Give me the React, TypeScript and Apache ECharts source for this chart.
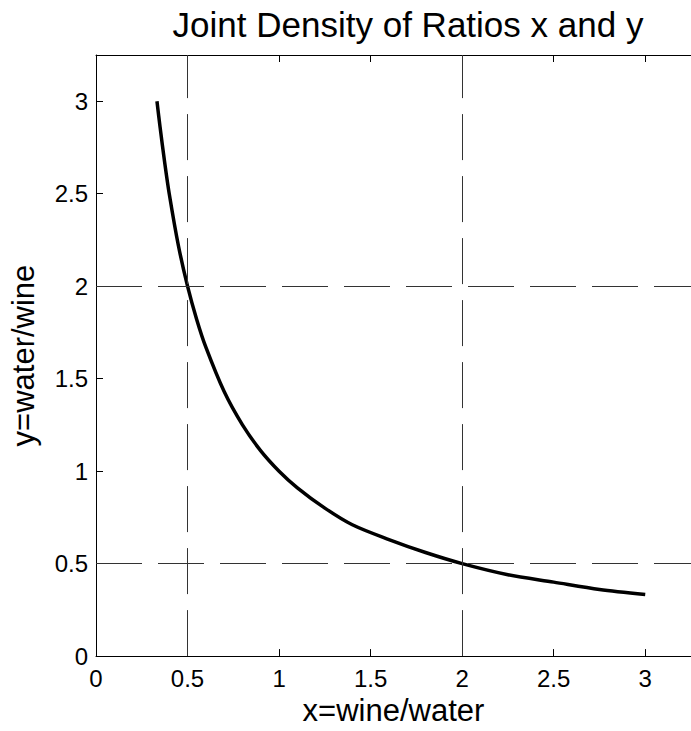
import React, { useEffect, useRef } from "react";
import * as echarts from "echarts";

const titleText = "Joint Density of Ratios x and y";
const xName = "x=wine/water";
const yName = "y=water/wine";

// curve points (x, y)
const curveX = [0.333, 0.35, 0.375, 0.4, 0.45, 0.5, 0.55, 0.6, 0.7, 0.8, 0.9, 1.0, 1.1, 1.25, 1.4, 1.6, 1.8, 2.0, 2.25, 2.5, 2.75, 3.0];
const curveY = [3.0, 2.86, 2.67, 2.5, 2.22, 2.0, 1.82, 1.67, 1.43, 1.25, 1.11, 1.0, 0.91, 0.8, 0.71, 0.63, 0.56, 0.5, 0.44, 0.4, 0.36, 0.333];

// dashed reference lines
const vLines = [0.5, 2];
const hLines = [0.5, 2];

const axisMin = 0;
const axisMax = 3.25;
const tickStep = 0.5;

export default function App() {
  const ref = useRef<HTMLDivElement>(null);
  useEffect(() => {
    if (!ref.current) return;
    const chart = echarts.init(ref.current, null, { renderer: "svg" });
    const font = "'Liberation Sans', Arial, Helvetica, sans-serif";
    const tickCommon = {
      axisLine: { show: true, lineStyle: { color: "#000", width: 1 } },
      axisTick: { show: true, inside: true, length: 7, lineStyle: { color: "#000", width: 1 } },
      splitLine: { show: false },
    };
    chart.setOption({
      animation: false,
      backgroundColor: "#fff",
      title: {
        text: titleText,
        left: 403,
        top: 2,
        textAlign: "center",
        textStyle: { fontFamily: font, fontSize: 35, fontWeight: "normal", color: "#000" },
      },
      grid: { left: 95, top: 55, right: -8, bottom: 70, containLabel: false },
      xAxis: [
        {
          type: "value",
          min: axisMin,
          max: axisMax,
          interval: tickStep,
          position: "bottom",
          name: xName,
          nameLocation: "middle",
          nameGap: 38,
          nameTextStyle: { fontFamily: font, fontSize: 31, color: "#000" },
          axisLabel: { fontFamily: font, fontSize: 24, color: "#000", margin: 10, showMaxLabel: false },
          ...tickCommon,
        },
        {
          type: "value",
          min: axisMin,
          max: axisMax,
          interval: tickStep,
          position: "top",
          axisLabel: { show: false },
          ...tickCommon,
        },
      ],
      yAxis: [
        {
          type: "value",
          min: axisMin,
          max: axisMax,
          interval: tickStep,
          position: "left",
          name: yName,
          nameLocation: "middle",
          nameGap: 57,
          nameTextStyle: { fontFamily: font, fontSize: 31, color: "#000" },
          axisLabel: { fontFamily: font, fontSize: 24, color: "#000", margin: 8, showMaxLabel: false },
          ...tickCommon,
        },
      ],
      series: [
        {
          type: "line",
          data: curveX.map((x, i) => [x, curveY[i]]),
          showSymbol: false,
          smooth: 0.3,
          lineStyle: { color: "#000", width: 3.5 },
          markLine: {
            silent: true,
            symbol: "none",
            label: { show: false },
            lineStyle: { color: "#333", width: 1, type: [46, 16] },
            data: [
              ...vLines.map((v) => ({ xAxis: v })),
              ...hLines.map((v) => ({ yAxis: v })),
            ],
          },
        },
      ],
    });
    return () => chart.dispose();
  }, []);
  return (
    <div
      ref={ref}
      style={{ position: "absolute", left: 0, top: 0, width: 691, height: 731 }}
    />
  );
}
